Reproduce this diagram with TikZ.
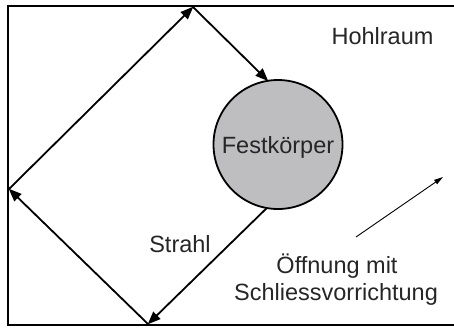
\documentclass[tikz,border=0pt]{standalone}
\usepackage{fontspec}
\setmainfont{Liberation Sans}
\usetikzlibrary{arrows.meta}
\definecolor{txt}{HTML}{262626}
\definecolor{fkgray}{HTML}{BEBEC0}
\tikzset{
  ray/.style={line width=1.8pt, -{Triangle[length=13pt,width=10pt]}, shorten >=-0.5pt},
  lbl/.style={text=txt, font=\fontsize{23.5}{27}\selectfont, inner sep=0pt, anchor=base},
  thin/.style={line width=0.9pt, -{Triangle[length=9pt,width=5pt]}}
}
\begin{document}
\begin{tikzpicture}[x=1pt,y=1pt]
\useasboundingbox (0,0) rectangle (454,-329);
\draw[line width=2pt] (470,-6) -- (8,-6) -- (8,-325) -- (470,-325);
\node[circle, draw, line width=1.8pt, fill=fkgray, minimum size=129pt, inner sep=0pt, outer sep=0pt] (fk) at (278,-144.5) {};
\node[lbl] (fkl) at (278,-153) {Festkörper};
\coordinate (top) at (193,-7);
\coordinate (left) at (9,-189);
\coordinate (bot) at (148,-324);
\draw[ray] (fk.260) -- (bot);
\draw[ray] (bot) -- (left);
\draw[ray] (left) -- (top);
\draw[ray] (top) -- (fk.99);
\node[lbl] (hohl) at (382.5,-44.5) {Hohlraum};
\node[lbl] (strahl) at (180,-252) {Strahl};
\node[lbl] (oeff1) at (337,-273) {Öffnung mit};
\node[lbl] (oeff2) at (336,-300) {Schliessvorrichtung};
\coordinate (a1) at (356,-237);
\coordinate (a2) at (443,-177);
\draw[thin] (a1) -- (a2);
\end{tikzpicture}
\end{document}
